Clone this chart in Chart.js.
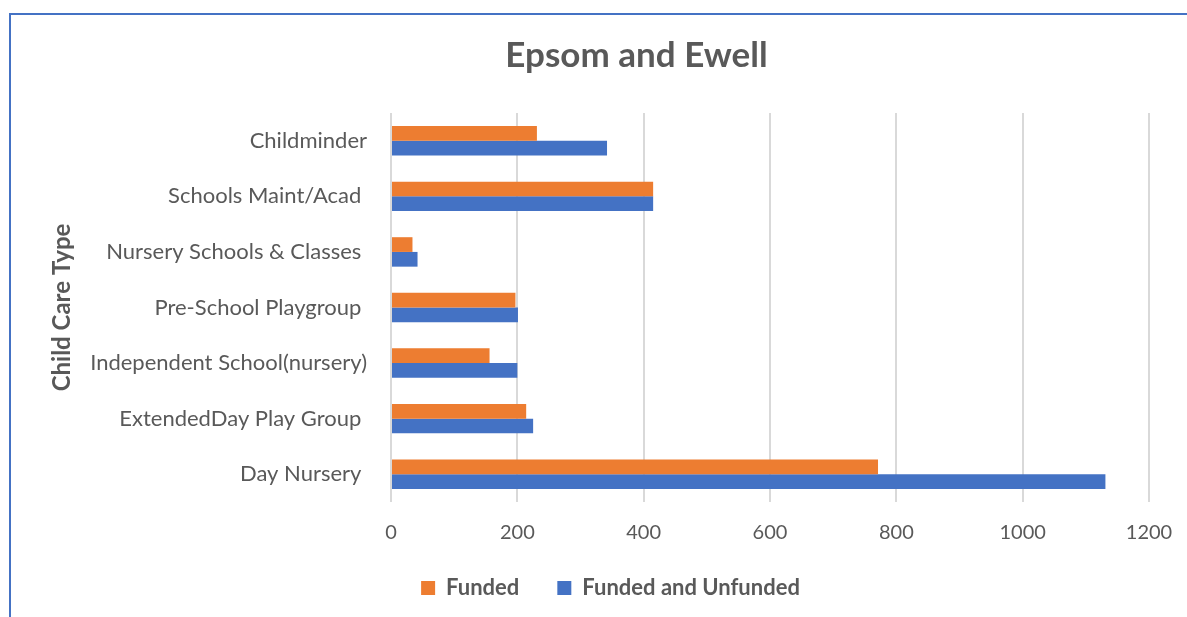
<!DOCTYPE html>
<html>
<head>
<meta charset="utf-8">
<title>Epsom and Ewell</title>
<script src="https://cdn.jsdelivr.net/npm/chart.js@4/dist/chart.umd.min.js"></script>
<style>
    html, body { margin: 0; padding: 0; background: #fff; overflow: hidden; }
    #frame {
        position: absolute; left: 9px; top: 13px; width: 1300px; height: 700px;
        border-left: 2px solid #4472C4; border-top: 2px solid #4472C4;
    }
    #wrap { position: absolute; left: 0; top: 0; width: 1187px; height: 617px; }
</style>
</head>
<body>
<div id="frame"></div>
<div id="wrap"><canvas id="childCareChart"></canvas></div>
<script>
// Données du graphique
const categories = [
    'Childminder',
    'Schools Maint/Acad ',
    'Nursery Schools & Classes ',
    'Pre-School Playgroup ',
    'Independent School(nursery)',
    'ExtendedDay Play Group ',
    'Day Nursery '
];
const funded = [231, 415, 34, 197, 156, 214, 771];
const fundedAndUnfunded = [342, 415, 42, 201, 200, 225, 1131];
const xTicks = [0, 200, 400, 600, 800, 1000, 1200];

const textColor = '#595959';
const fontFamily = 'Lato, "Open Sans", sans-serif';

// Décalage du titre et de la légende (comme dans le graphique Excel)
const offsetPlugin = {
    id: 'offsetBlocks',
    afterLayout(chart) {
        const t = chart.titleBlock;
        if (t) { t.left += 40; t.right += 40; }
        const l = chart.legend;
        if (l) {
            l.left += 14; l.right += 14;
            l.top -= 6; l.bottom -= 6;
        }
    }
};

document.addEventListener('DOMContentLoaded', function() {
    const ctx = document.getElementById('childCareChart').getContext('2d');
    new Chart(ctx, {
        type: 'bar',
        data: {
            labels: categories,
            datasets: [{
                label: 'Funded',
                data: funded,
                backgroundColor: '#ED7D31',
                categoryPercentage: 0.53,
                barPercentage: 1.0
            }, {
                label: 'Funded and Unfunded',
                data: fundedAndUnfunded,
                backgroundColor: '#4472C4',
                categoryPercentage: 0.53,
                barPercentage: 1.0
            }]
        },
        options: {
            indexAxis: 'y',
            responsive: true,
            maintainAspectRatio: false,
            animation: false,
            layout: {
                padding: { left: 44, right: 38, top: 18, bottom: 2 }
            },
            scales: {
                x: {
                    min: xTicks[0],
                    max: xTicks[xTicks.length - 1],
                    afterBuildTicks: function(axis) {
                        axis.ticks = xTicks.map(v => ({ value: v }));
                    },
                    afterFit: function(scale) {
                        scale.height = 43;
                        scale.paddingLeft = 0;
                        scale.paddingRight = 0;
                    },
                    grid: { color: '#D9D9D9', lineWidth: 2, drawTicks: false },
                    border: { display: false },
                    ticks: {
                        color: textColor,
                        padding: 19,
                        font: { family: fontFamily, size: 20 },
                        callback: function(value) { return String(value); }
                    }
                },
                y: {
                    afterFit: function(scale) {
                        scale.width = 347;
                    },
                    grid: { display: false, drawTicks: false },
                    border: { display: false },
                    ticks: {
                        color: textColor,
                        padding: 24,
                        font: { family: fontFamily, size: 22 }
                    },
                    title: {
                        display: true,
                        text: 'Child Care Type',
                        color: textColor,
                        font: { family: fontFamily, size: 24, weight: 'bold' }
                    }
                }
            },
            plugins: {
                title: {
                    display: true,
                    text: 'Epsom and Ewell',
                    color: textColor,
                    font: { family: fontFamily, size: 35, weight: 'bold' },
                    padding: { top: 17, bottom: 36 }
                },
                legend: {
                    position: 'bottom',
                    labels: {
                        color: textColor,
                        boxWidth: 14,
                        boxHeight: 14,
                        padding: 38,
                        font: { family: fontFamily, size: 22, weight: 'bold' }
                    }
                },
                tooltip: { enabled: false }
            }
        },
        plugins: [offsetPlugin]
    });
});
</script>
</body>
</html>
